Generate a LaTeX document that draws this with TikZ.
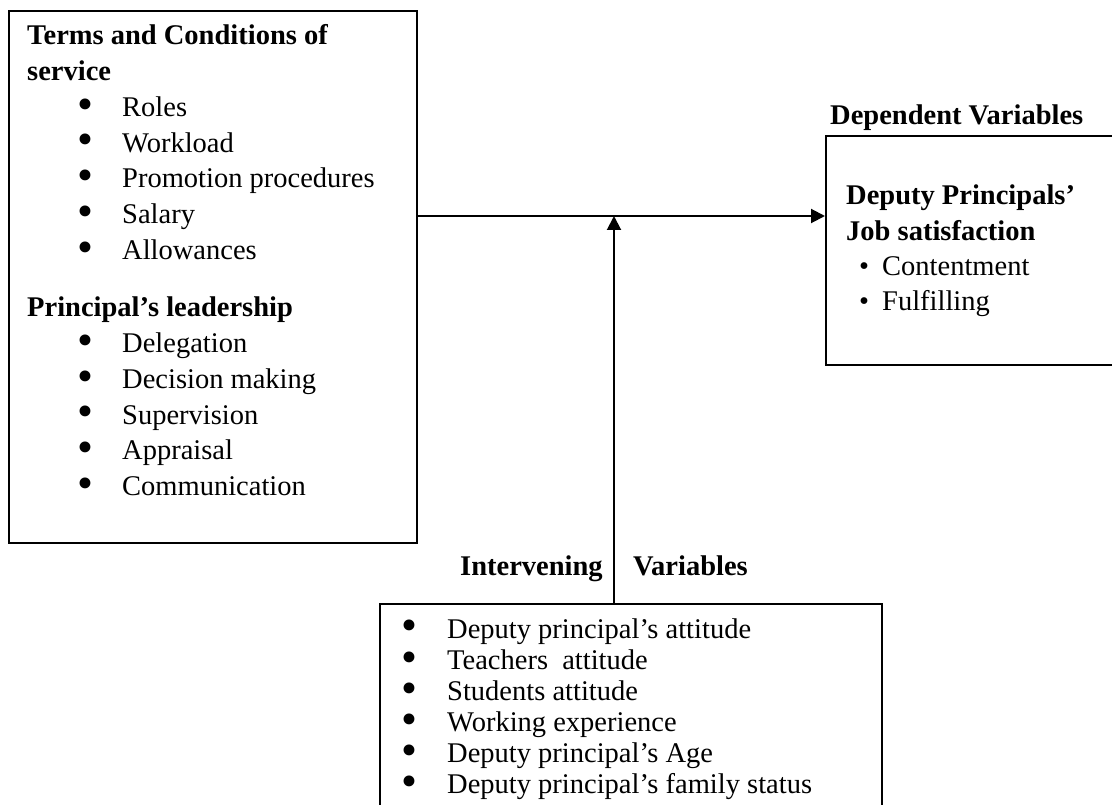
\documentclass[tikz,border=0pt]{standalone}
\usepackage{fontspec}
\setmainfont{Liberation Serif}
\usepackage{tikz}
\usetikzlibrary{arrows.meta,positioning,calc}
\newcommand{\bigbullet}{\raisebox{-0.1em}[0pt][0pt]{\scalebox{1.6}{\textbullet}}}
\tikzset{
  %% Frames round each group of variables
  varbox/.style={draw, rectangle, line width=1.6pt, inner sep=0pt},
  %% Text set inside and above the frames
  varlist/.style={anchor=base west, inner sep=0pt,
                  font=\fontsize{28.5}{34.2}\selectfont},
  varhead/.style={varlist, font=\fontsize{28.5}{34.2}\selectfont\bfseries},
  %% Arrows between the groups
  link/.style={line width=2pt, -{Triangle[length=14pt,width=14pt]}},
}

\begin{document}
\begin{tikzpicture}[x=1pt,y=-1pt]
\useasboundingbox (0,0) rectangle (1112,805);

%% frames
\node[varbox, anchor=north west, minimum width=408pt, minimum height=532pt] (indep) at (8,10) {};
\node[varbox, anchor=north west, minimum width=320pt, minimum height=229pt] (dep) at (825,135) {};
\node[varbox, anchor=north west, minimum width=502pt, minimum height=230pt] (interv) at (379,603) {};

%% independent variables
\node[varlist] (indeplist) at (27,45) {%
  \setlength{\tabcolsep}{0pt}%
  \renewcommand{\arraystretch}{1.044}%
  \begin{tabular}[t]{@{\hspace{50pt}}p{45pt}@{}l@{}}
    \multicolumn{2}{@{}l@{}}{\bfseries Terms and Conditions of} \\
    \multicolumn{2}{@{}l@{}}{\bfseries service} \\
    \bigbullet & Roles \\
    \bigbullet & Workload \\
    \bigbullet & Promotion procedures \\
    \bigbullet & Salary \\
    \bigbullet & Allowances \\[22pt]
    \multicolumn{2}{@{}l@{}}{\bfseries Principal's leadership} \\
    \bigbullet & Delegation \\
    \bigbullet & Decision making \\
    \bigbullet & Supervision \\
    \bigbullet & Appraisal \\
    \bigbullet & Communication \\
  \end{tabular}};

%% dependent variable
\node[varhead] (deplabel) at (830,125) {Dependent Variables};
\node[varlist] (deplist) at (846,205) {%
  \setlength{\tabcolsep}{0pt}%
  \renewcommand{\arraystretch}{1.025}%
  \begin{tabular}[t]{@{\hspace{13pt}}p{23pt}@{}l@{}}
    \multicolumn{2}{@{}l@{}}{\bfseries Deputy Principals'} \\
    \multicolumn{2}{@{}l@{}}{\bfseries Job satisfaction} \\
    \textbullet & Contentment \\
    \textbullet & Fulfilling \\
  \end{tabular}};

%% intervening variables
\node[varhead] (intlabel) at (460,575) {Intervening};
\node[varhead] (varlabel) at (633,575) {Variables};
\node[varlist] (intlist) at (401,638) {%
  \setlength{\tabcolsep}{0pt}%
  \renewcommand{\arraystretch}{0.912}%
  \begin{tabular}[t]{@{}p{46pt}@{}l@{}}
    \bigbullet & Deputy principal's attitude \\
    \bigbullet & Teachers~ attitude \\
    \bigbullet & Students attitude \\
    \bigbullet & Working experience \\
    \bigbullet & Deputy principal's Age \\
    \bigbullet & Deputy principal's family status \\
  \end{tabular}};

%% arrows
\coordinate (meet) at (614,216);
\draw[link] (indep.east |- meet) -- (dep.west |- meet);
\draw[link] (interv.north -| meet) -- (meet);
\end{tikzpicture}
\end{document}
